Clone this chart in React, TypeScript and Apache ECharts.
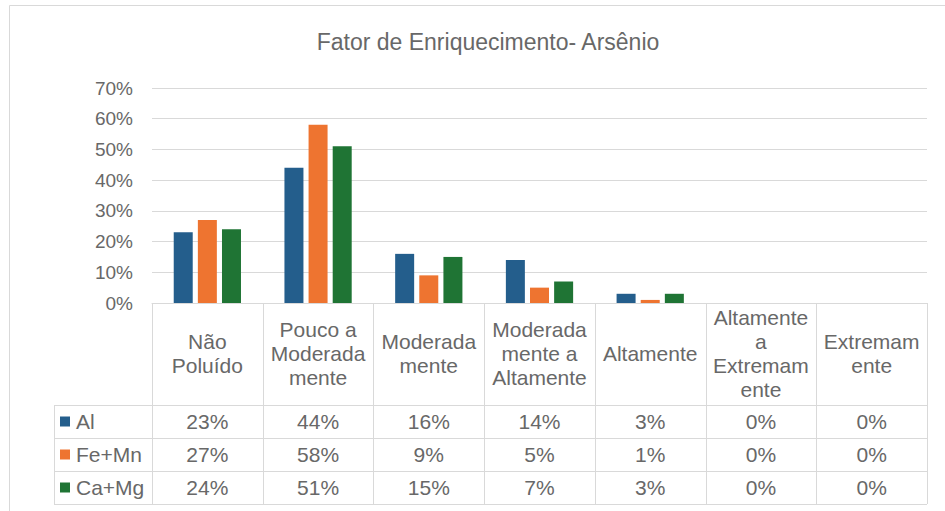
import React, { useEffect, useRef } from "react";
import * as echarts from "echarts";

const titleText = "Fator de Enriquecimento- Arsênio";
const categories = [
  "Não\nPoluído",
  "Pouco a\nModerada\nmente",
  "Moderada\nmente",
  "Moderada\nmente a\nAltamente",
  "Altamente",
  "Altamente\na\nExtremam\nente",
  "Extremam\nente",
];
const seriesNames = ["Al", "Fe+Mn", "Ca+Mg"];
const alValues = [23, 44, 16, 14, 3, 0, 0];
const feMnValues = [27, 58, 9, 5, 1, 0, 0];
const caMgValues = [24, 51, 15, 7, 3, 0, 0];
const seriesColors = ["#245E8C", "#EE7430", "#1F7434"];

const W = 945;
const H = 511;
const gridLeft = 152;
const gridRight = 927;
const gridTop = 88;
const axisY = 303;
const headerBottom = 405;
const rowH = 33;
const legendLeft = 54;
const textColor = "#686868";
const lineColor = "#d9d9d9";
const font = "Liberation Sans, Arial, sans-serif";
const tableFont = 21;

export default function App() {
  const ref = useRef<HTMLDivElement>(null);
  useEffect(() => {
    if (!ref.current) return;
    const chart = echarts.init(ref.current, null, { renderer: "svg" });
    const allValues = [alValues, feMnValues, caMgValues];
    const n = categories.length;
    const colW = (gridRight - gridLeft) / n;
    const graphics: any[] = [];
    graphics.push({
      type: "rect",
      shape: { x: 9.5, y: 5.5, width: W, height: H },
      style: { fill: "none", stroke: lineColor, lineWidth: 1 },
      silent: true,
    });
    for (let k = 0; k <= n; k++) {
      const x = Math.round(gridLeft + k * colW) + 0.5;
      graphics.push({
        type: "line",
        shape: { x1: x, y1: axisY, x2: x, y2: headerBottom + rowH * 3 },
        style: { stroke: lineColor, lineWidth: 1 },
        silent: true,
      });
    }
    graphics.push({
      type: "line",
      shape: { x1: legendLeft + 0.5, y1: headerBottom, x2: legendLeft + 0.5, y2: headerBottom + rowH * 3 },
      style: { stroke: lineColor, lineWidth: 1 },
      silent: true,
    });
    for (let r = 0; r <= 3; r++) {
      const y = headerBottom + r * rowH + 0.5;
      graphics.push({
        type: "line",
        shape: { x1: legendLeft, y1: y, x2: gridRight, y2: y },
        style: { stroke: lineColor, lineWidth: 1 },
        silent: true,
      });
    }
    categories.forEach((c, i) => {
      graphics.push({
        type: "text",
        x: gridLeft + (i + 0.5) * colW,
        y: 353,
        style: {
          text: c,
          fill: textColor,
          fontSize: tableFont,
          fontFamily: font,
          lineHeight: 24,
          align: "center",
          textAlign: "center",
          verticalAlign: "middle",
          textVerticalAlign: "middle",
        },
        silent: true,
      });
    });
    seriesNames.forEach((name, s) => {
      const cy = headerBottom + (s + 0.5) * rowH;
      graphics.push({
        type: "rect",
        shape: { x: 60, y: cy - 5, width: 10, height: 10 },
        style: { fill: seriesColors[s] },
        silent: true,
      });
      graphics.push({
        type: "text",
        x: 76,
        y: cy,
        style: {
          text: name,
          fill: textColor,
          fontSize: tableFont,
          fontFamily: font,
          align: "left",
          textAlign: "left",
          verticalAlign: "middle",
          textVerticalAlign: "middle",
        },
        silent: true,
      });
      allValues[s].forEach((v, i) => {
        graphics.push({
          type: "text",
          x: gridLeft + (i + 0.5) * colW,
          y: cy,
          style: {
            text: v + "%",
            fill: textColor,
            fontSize: tableFont,
            fontFamily: font,
            align: "center",
            textAlign: "center",
            verticalAlign: "middle",
            textVerticalAlign: "middle",
          },
          silent: true,
        });
      });
    });

    chart.setOption({
      animation: false,
      backgroundColor: "#ffffff",
      title: {
        text: titleText,
        left: 483,
        top: 25,
        textAlign: "center",
        textStyle: { color: textColor, fontSize: 23, fontWeight: "normal", fontFamily: font },
      },
      grid: { left: gridLeft, right: W - gridRight, top: gridTop, bottom: H - axisY, containLabel: false },
      xAxis: {
        type: "category",
        data: categories,
        axisLine: { show: true, lineStyle: { color: lineColor } },
        axisTick: { show: false },
        axisLabel: { show: false },
      },
      yAxis: {
        type: "value",
        min: 0,
        max: 70,
        interval: 10,
        axisLabel: { formatter: "{value}%", color: textColor, fontSize: 19, fontFamily: font, margin: 19 },
        splitLine: { lineStyle: { color: lineColor } },
        axisLine: { show: false },
        axisTick: { show: false },
      },
      series: seriesNames.map((name, s) => ({
        name,
        type: "bar",
        data: allValues[s],
        barWidth: 19,
        barGap: "27%",
        itemStyle: { color: seriesColors[s] },
      })),
      graphic: graphics,
    });
    return () => chart.dispose();
  }, []);
  return (
    <div
      ref={ref}
      style={{ position: "fixed", left: 0, top: 0, width: W, height: H, background: "#fff" }}
    />
  );
}
